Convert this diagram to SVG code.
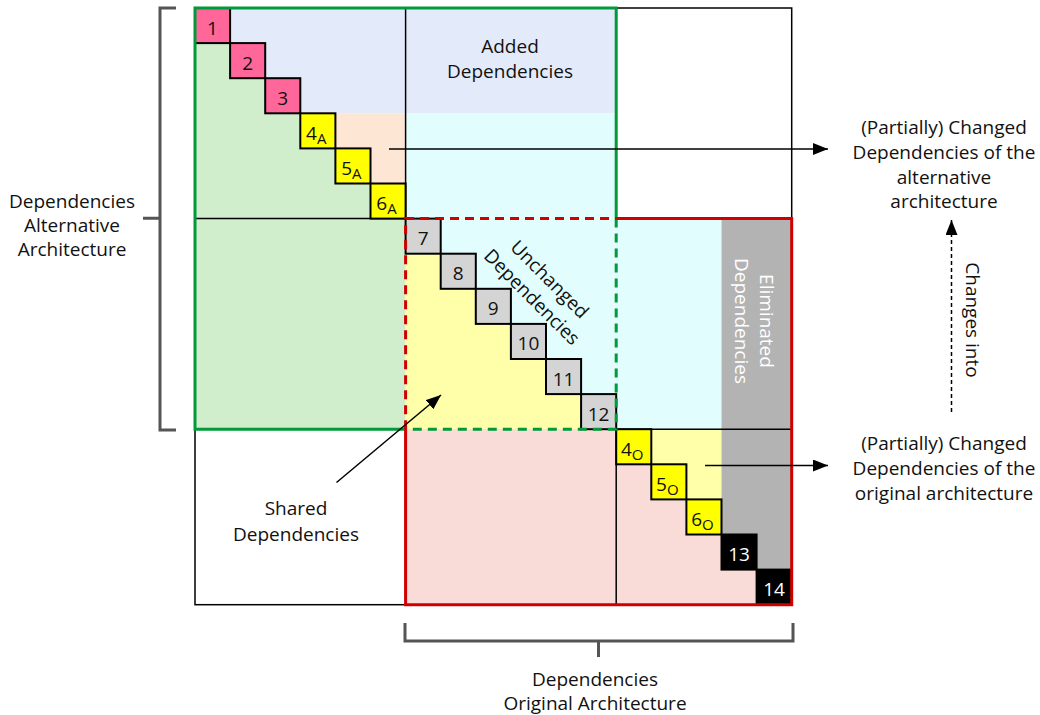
<svg xmlns="http://www.w3.org/2000/svg" width="1040" height="715" viewBox="0 0 1040 715">
  <defs>
    <style>
      .t { font-family: "Open Sans", "Liberation Sans", sans-serif; font-size: 19px; fill: #111; text-anchor: middle; }
      .w { fill: #fff; }
      .cell { stroke: #000; stroke-width: 2; }
      .pk { fill: #ff6699; }
      .yl { fill: #ffff00; }
      .gy { fill: #d4d4d4; }
      .bk { fill: #000; }
      .sub { font-size: 15px; }
      .grid { stroke: #000; stroke-width: 1.5; fill: none; }
      .green { stroke: #009a3a; stroke-width: 3; fill: none; }
      .red { stroke: #d00000; stroke-width: 3; fill: none; }
      .dash { stroke-dasharray: 9 6; }
      .brace { stroke: #555; stroke-width: 3; fill: none; }
      .conn { stroke: #000; stroke-width: 1.5; fill: none; }
    </style>
    <marker id="ah" markerWidth="15" markerHeight="12" refX="15" refY="6" orient="auto" markerUnits="userSpaceOnUse">
      <path d="M0,0 L15,6 L0,12 z" fill="#000"/>
    </marker>
  </defs>

  <rect width="1040" height="715" fill="#fff"/>

  <!-- region fills of the combined matrix -->
  <g id="regions">
    <polygon points="195,8 616.2,8 616.2,113.3 300.3,113.3" fill="#e3ebfa"/>
    <polygon points="300.3,113.3 405.6,113.3 405.6,218.6" fill="#fde6d4"/>
    <rect x="405.6" y="113.3" width="210.6" height="105.3" fill="#e2fdfd"/>
    <polygon points="405.6,218.6 721.5,218.6 721.5,429.2 616.2,429.2" fill="#e2fdfd"/>
    <polygon points="195,8 405.6,218.6 405.6,429.2 195,429.2" fill="#d0edcc"/>
    <polygon points="405.6,218.6 616.2,429.2 405.6,429.2" fill="#ffffaa"/>
    <polygon points="616.2,429.2 721.5,429.2 721.5,534.5" fill="#ffffaa"/>
    <rect x="405.6" y="429.2" width="210.6" height="175.5" fill="#f9dbd8"/>
    <polygon points="616.2,429.2 791.7,604.7 616.2,604.7" fill="#f9dbd8"/>
    <polygon points="721.5,218.6 791.7,218.6 791.7,604.7 721.5,534.5" fill="#b3b3b3"/>
  </g>

  <!-- thin black frame and dividers -->
  <g id="grid" class="grid">
    <rect x="195" y="8" width="596.7" height="596.7"/>
    <line x1="405.6" y1="8" x2="405.6" y2="218.6"/>
    <line x1="405.6" y1="429.2" x2="405.6" y2="604.7"/>
    <line x1="616.2" y1="8" x2="616.2" y2="218.6"/>
    <line x1="616.2" y1="429.2" x2="616.2" y2="604.7"/>
    <line x1="195" y1="218.6" x2="405.6" y2="218.6"/>
    <line x1="616.2" y1="218.6" x2="791.7" y2="218.6"/>
    <line x1="195" y1="429.2" x2="405.6" y2="429.2"/>
    <line x1="616.2" y1="429.2" x2="791.7" y2="429.2"/>
  </g>

  <!-- diagonal elements -->
  <g id="cell-1"><rect class="cell pk" x="195" y="8" width="35.1" height="35.1"/><text class="t" x="212.5" y="34.5">1</text></g>
  <g id="cell-2"><rect class="cell pk" x="230.1" y="43.1" width="35.1" height="35.1"/><text class="t" x="247.6" y="69.6">2</text></g>
  <g id="cell-3"><rect class="cell pk" x="265.2" y="78.2" width="35.1" height="35.1"/><text class="t" x="282.7" y="104.7">3</text></g>
  <g id="cell-4a"><rect class="cell yl" x="300.3" y="113.3" width="35.1" height="35.1"/><text class="t" x="316.3" y="139.8">4<tspan class="sub" dy="4">A</tspan></text></g>
  <g id="cell-5a"><rect class="cell yl" x="335.4" y="148.4" width="35.1" height="35.1"/><text class="t" x="351.4" y="174.9">5<tspan class="sub" dy="4">A</tspan></text></g>
  <g id="cell-6a"><rect class="cell yl" x="370.5" y="183.5" width="35.1" height="35.1"/><text class="t" x="386.5" y="210">6<tspan class="sub" dy="4">A</tspan></text></g>
  <g id="cell-7"><rect class="cell gy" x="405.6" y="218.6" width="35.1" height="35.1"/><text class="t" x="423.1" y="245.1">7</text></g>
  <g id="cell-8"><rect class="cell gy" x="440.7" y="253.7" width="35.1" height="35.1"/><text class="t" x="458.2" y="280.2">8</text></g>
  <g id="cell-9"><rect class="cell gy" x="475.8" y="288.8" width="35.1" height="35.1"/><text class="t" x="493.3" y="315.3">9</text></g>
  <g id="cell-10"><rect class="cell gy" x="510.9" y="323.9" width="35.1" height="35.1"/><text class="t" x="528.4" y="350.4">10</text></g>
  <g id="cell-11"><rect class="cell gy" x="546" y="359" width="35.1" height="35.1"/><text class="t" x="563.5" y="385.5">11</text></g>
  <g id="cell-12"><rect class="cell gy" x="581.1" y="394.1" width="35.1" height="35.1"/><text class="t" x="598.6" y="420.6">12</text></g>
  <g id="cell-4o"><rect class="cell yl" x="616.2" y="429.2" width="35.1" height="35.1"/><text class="t" x="632.2" y="455.7">4<tspan class="sub" dy="4">O</tspan></text></g>
  <g id="cell-5o"><rect class="cell yl" x="651.3" y="464.3" width="35.1" height="35.1"/><text class="t" x="667.3" y="490.8">5<tspan class="sub" dy="4">O</tspan></text></g>
  <g id="cell-6o"><rect class="cell yl" x="686.4" y="499.4" width="35.1" height="35.1"/><text class="t" x="702.4" y="525.9">6<tspan class="sub" dy="4">O</tspan></text></g>
  <g id="cell-13"><rect class="cell bk" x="721.5" y="534.5" width="35.1" height="35.1"/><text class="t w" x="739" y="561">13</text></g>
  <g id="cell-14"><rect class="cell bk" x="756.6" y="569.6" width="35.1" height="35.1"/><text class="t w" x="774.1" y="596.1">14</text></g>

  <!-- alternative architecture outline (green) -->
  <g id="alt-frame">
    <path class="green" d="M405.6,429.2 H195 V8 H616.2 V218.6"/>
    <path class="green dash" d="M616.2,218.6 V429.2 H405.6"/>
  </g>

  <!-- original architecture outline (red) -->
  <g id="orig-frame">
    <path class="red" d="M616.2,218.6 H791.7 V604.7 H405.6 V429.2"/>
    <path class="red dash" d="M405.6,429.2 V218.6 H616.2"/>
  </g>

  <!-- braces -->
  <g id="brace-alt" class="brace"><path d="M176,8 H160 V430 H176 M160,218.3 H143"/></g>
  <g id="brace-orig" class="brace"><path d="M405,623 V641 H793 V623 M598.5,641 V657"/></g>

  <!-- region labels -->
  <g id="label-added"><text class="t" x="510" y="52.5">Added</text><text class="t" x="510" y="77.5">Dependencies</text></g>
  <g id="label-unchanged"><text class="t" transform="translate(541,288) rotate(45)"><tspan x="0" y="-5.7">Unchanged</tspan><tspan x="0" y="19.3">Dependencies</tspan></text></g>
  <g id="label-eliminated"><text class="t w" transform="translate(754.5,321) rotate(90)"><tspan x="0" y="-5.7">Eliminated</tspan><tspan x="0" y="19.3">Dependencies</tspan></text></g>
  <g id="label-alt"><text class="t" x="72" y="207.5">Dependencies</text><text class="t" x="72" y="231.8">Alternative</text><text class="t" x="72" y="256">Architecture</text></g>
  <g id="label-orig"><text class="t" x="595" y="685.8">Dependencies</text><text class="t" x="595" y="710">Original Architecture</text></g>
  <g id="label-shared"><text class="t" x="296" y="514.8">Shared</text><text class="t" x="296" y="540.5">Dependencies</text></g>
  <g id="label-changed-alt"><text class="t" x="944" y="133.8">(Partially) Changed</text><text class="t" x="944" y="158.8">Dependencies of the</text><text class="t" x="944" y="183.8">alternative</text><text class="t" x="944" y="208">architecture</text></g>
  <g id="label-changed-orig"><text class="t" x="944" y="449.8">(Partially) Changed</text><text class="t" x="944" y="474.8">Dependencies of the</text><text class="t" x="944" y="499.8">original architecture</text></g>
  <g id="label-changes"><text class="t" transform="translate(973,320) rotate(90)" y="6.8">Changes into</text></g>

  <!-- connectors -->
  <g id="connectors">
    <line class="conn" x1="389" y1="149" x2="828" y2="149" marker-end="url(#ah)"/>
    <line class="conn" x1="705" y1="465.5" x2="828" y2="465.5" marker-end="url(#ah)"/>
    <line class="conn" x1="336.5" y1="482.5" x2="441" y2="395" marker-end="url(#ah)"/>
    <line class="conn" x1="951.5" y1="412" x2="951.5" y2="220" stroke-dasharray="4 3" marker-end="url(#ah)"/>
  </g>
</svg>
